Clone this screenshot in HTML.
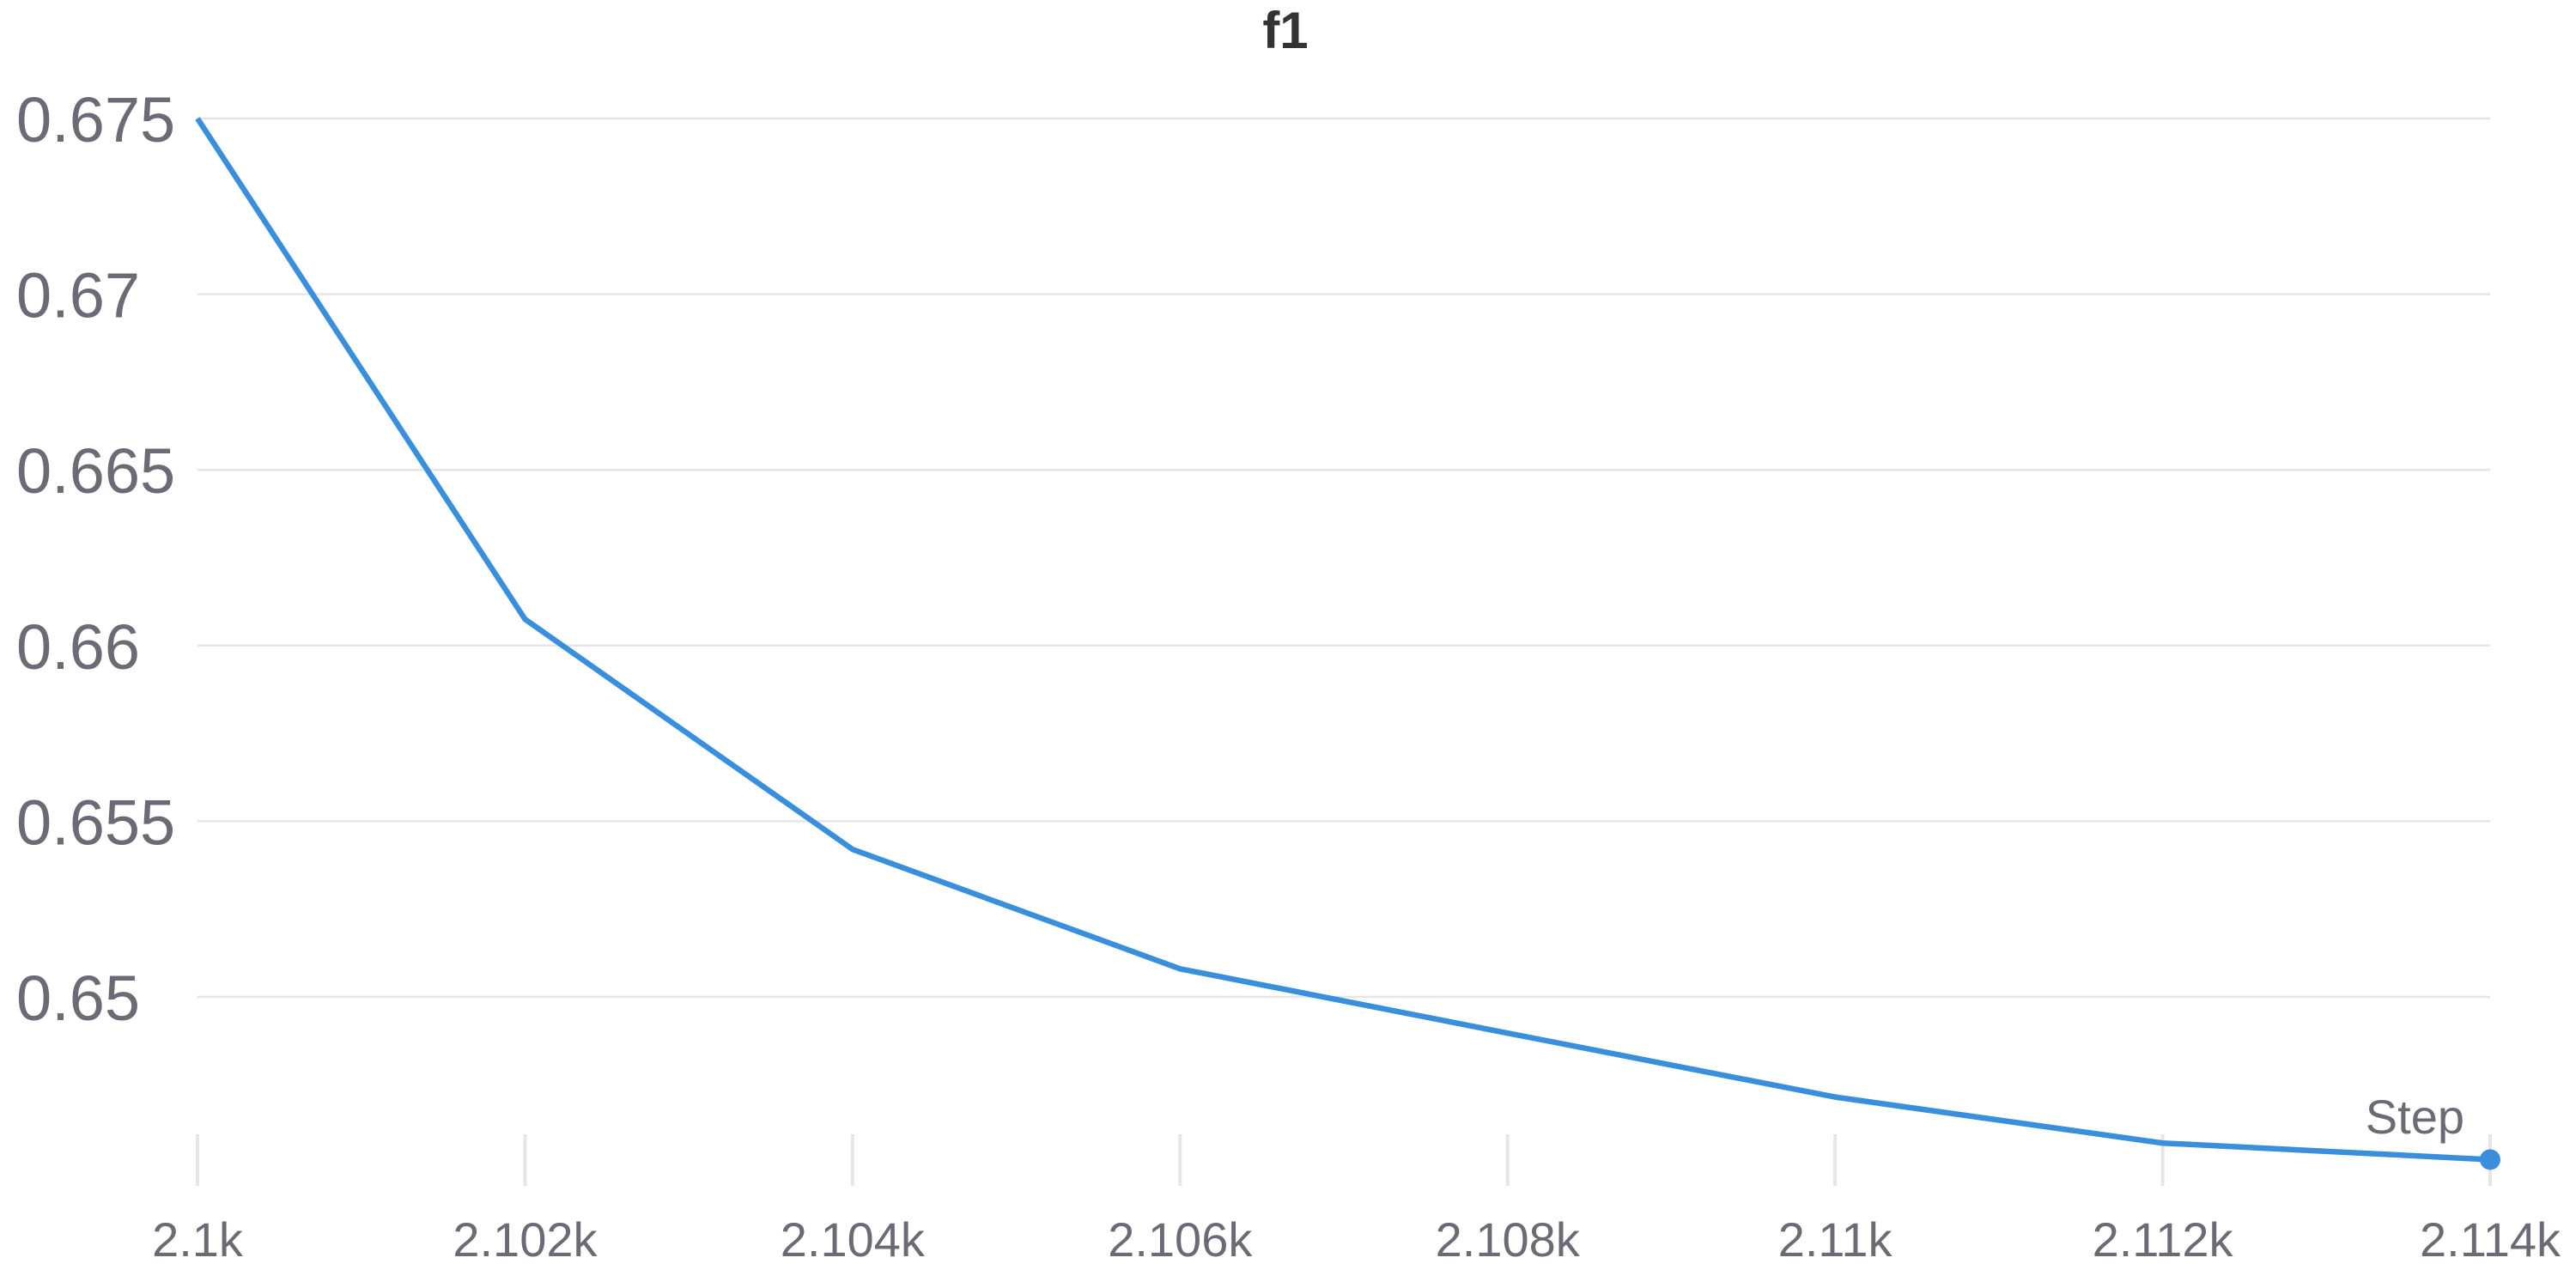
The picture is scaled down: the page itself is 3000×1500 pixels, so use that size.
<!DOCTYPE html>
<html><head><meta charset="utf-8"><style>
html,body{margin:0;padding:0;background:#fff;}
svg{display:block;font-family:"Liberation Sans",Arial,sans-serif;}
</style></head><body>
<svg id="chart" width="3000" height="1500" viewBox="0 0 3000 1500" xmlns="http://www.w3.org/2000/svg">
<text x="1497" y="56" text-anchor="middle" font-size="60" font-weight="bold" fill="#333">f1</text>
<g id="grid"></g><g id="xaxis"></g><g id="yaxis"></g><g id="series"></g>
<text x="2870" y="1320" text-anchor="end" font-size="56" fill="#6b6b76">Step</text>
</svg>
<script>
const steps=[2100,2102,2104,2106,2108,2110,2112,2114];
const f1Values=[0.675,0.66075,0.6542,0.6508,0.64897,0.64715,0.64584,0.64537];
const yTicks=[0.675,0.67,0.665,0.66,0.655,0.65];
const yTickLabels=["0.675","0.67","0.665","0.66","0.655","0.65"];
const xTicks=[2100,2102,2104,2106,2108,2110,2112,2114];
const xTickLabels=["2.1k","2.102k","2.104k","2.106k","2.108k","2.11k","2.112k","2.114k"];
const NS="http://www.w3.org/2000/svg";
const X=v=>230+(v-2100)/14*2670;
const Y=v=>138+(0.675-v)/0.025*1023;
function mk(t,a,p){const e=document.createElementNS(NS,t);for(const k in a)e.setAttribute(k,a[k]);p.appendChild(e);return e;}
const grid=document.getElementById('grid'),xa=document.getElementById('xaxis'),ya=document.getElementById('yaxis'),se=document.getElementById('series');
yTicks.forEach((v,i)=>{
 const l=mk('line',{x1:230,x2:2900,y1:Y(v),y2:Y(v),stroke:'#e6e6e6','stroke-width':2.5},grid);
 
 
 const t=mk('text',{x:19,y:Y(v)+27,'font-size':74,fill:'#6b6b76'},ya);
 t.textContent=yTickLabels[i];
 
 
});
xTicks.forEach((v,i)=>{
 const l=mk('line',{x1:X(v),x2:X(v),y1:1321,y2:1381,stroke:'#e6e6e6','stroke-width':4},xa);
 
 
 const t=mk('text',{x:X(v),y:1463,'text-anchor':'middle','font-size':56,fill:'#6b6b76'},xa);
 t.textContent=xTickLabels[i];
 
 
});
const pl=mk('polyline',{points:steps.map((s,i)=>X(s)+','+Y(f1Values[i])).join(' '),fill:'none',stroke:'#3a8fdc','stroke-width':6.5,'stroke-linejoin':'round'},se);


const n=steps.length-1;
const c=mk('circle',{cx:X(steps[n]),cy:Y(f1Values[n]),r:12,fill:'#3a8fdc'},se);


</script>
</body></html>
